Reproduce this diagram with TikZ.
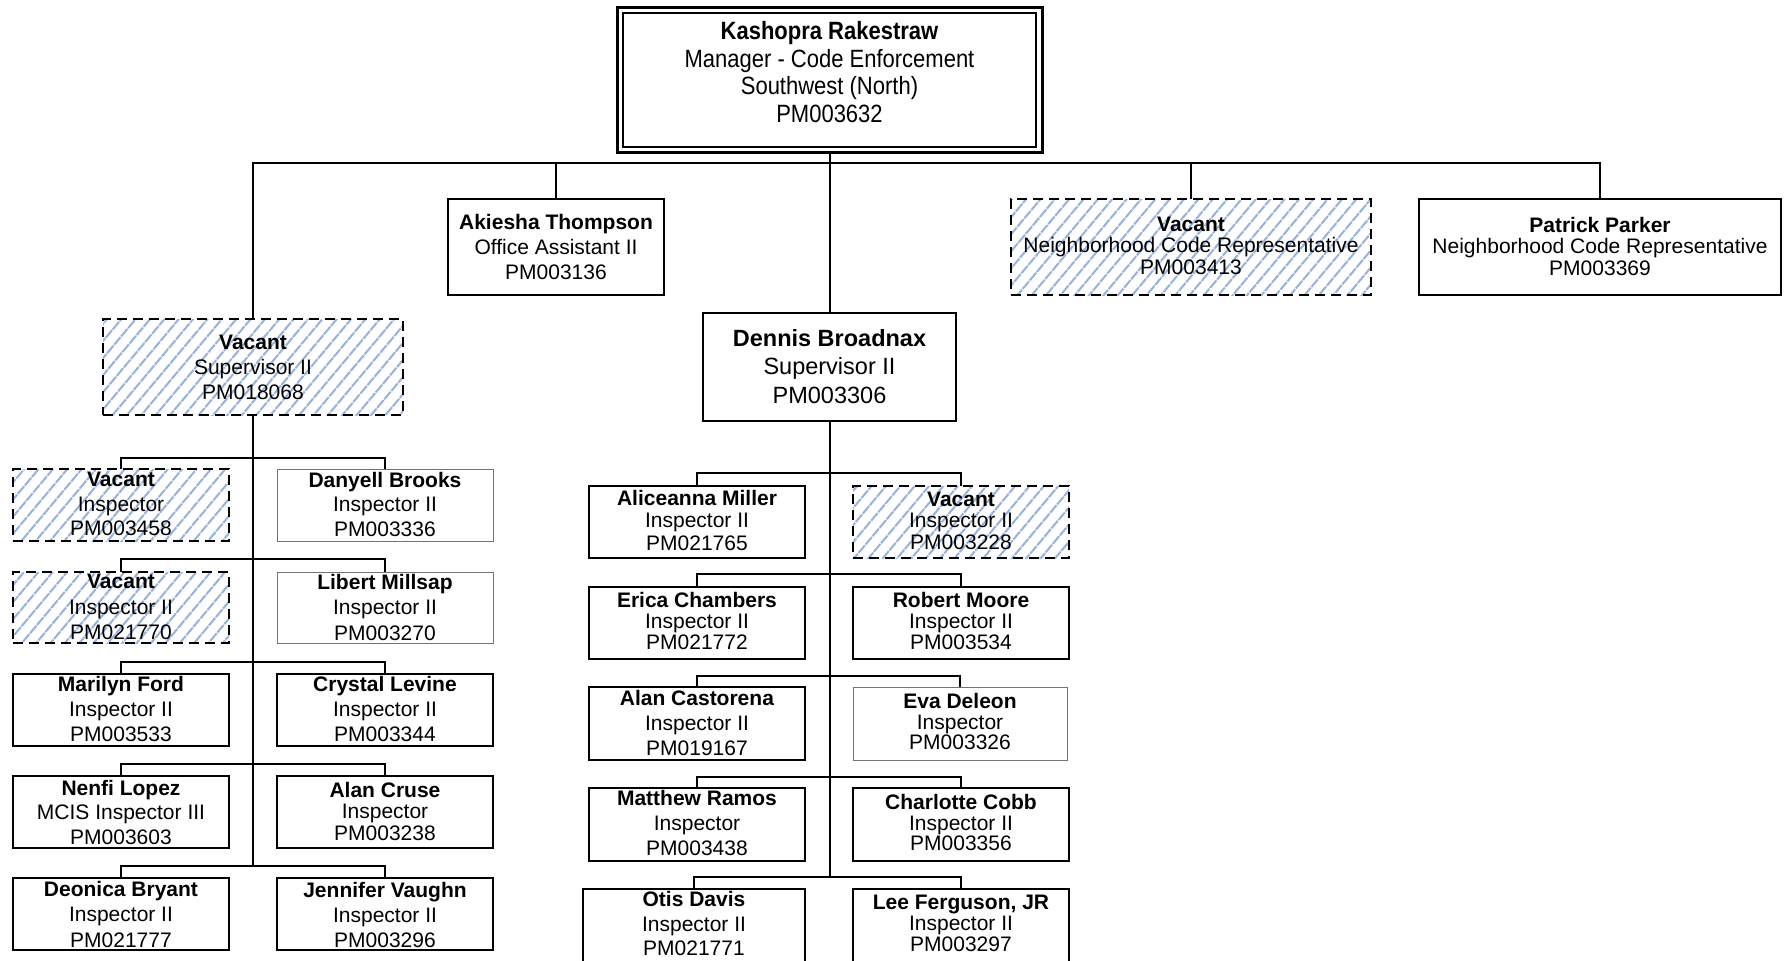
\documentclass[tikz,border=0pt]{standalone}
\usepackage{fontspec}
\setmainfont{Liberation Sans}
\newfontfamily\topfont[FakeStretch=0.88]{Liberation Sans}
\usetikzlibrary{patterns.meta}
\definecolor{hatch}{RGB}{150,178,222}
\tikzset{
  conn/.style={line width=1pt, draw=black},
  pbox/.style={draw=black, line width=1pt, rectangle, inner sep=0pt, outer sep=0pt},
  thinbox/.style={draw=black!55, line width=0.5pt, rectangle, inner sep=0pt, outer sep=0pt},
  vacbox/.style={draw=black, line width=1pt, dash pattern=on 5pt off 3pt, rectangle, inner sep=0pt, outer sep=0pt,
    pattern={Lines[angle=50,distance=5.5pt,line width=1pt]}, pattern color=hatch},
  txt/.style={inner sep=0pt, outer sep=0pt, align=center, text=black},
}
\def\fs{10.5}
% #1 style, #2 name, #3 x, #4 y, #5 w, #6 h, #7 text y, #8 line spacing (pt), #9 text
\newcommand\OB[9]{%
  \node[#1, minimum width=#5*0.5pt, minimum height=#6*0.5pt] (#2) at (#3,#4) {};
  \node[txt, font=\fontsize{\fs}{#8}\selectfont] (#2t) at (#3,#7) {#9};
}
\begin{document}
\begin{tikzpicture}[x=0.5pt,y=-0.5pt]
\fill[white] (0,0) rectangle (1789,960);
\useasboundingbox (0,0) rectangle (1789,960);

% top box
\node[pbox, line width=1.5pt, minimum width=425*0.5pt, minimum height=145*0.5pt] (T) at (829.5,79.5) {};
\draw[line width=1pt] ([shift={(6,5.5)}]T.north west) rectangle ([shift={(-6,-5.5)}]T.south east);
\node[txt, font=\topfont\fontsize{12.5}{13.8}\selectfont] (Tt) at (829.5,72)
  {\textbf{Kashopra Rakestraw}\\Manager - Code Enforcement\\Southwest (North)\\PM003632};

% level 2
\OB{vacbox}{VS}{253}{367}{300}{96}{367}{12.5}{\textbf{Vacant}\\Supervisor II\\PM018068}
\OB{pbox}{AT}{556}{247}{216}{96}{247}{12.5}{\textbf{Akiesha Thompson}\\Office Assistant II\\PM003136}
\def\fs{11.75}
\OB{pbox}{DB}{829.5}{367}{253}{108}{366.5}{14.25}{\textbf{Dennis Broadnax}\\Supervisor II\\PM003306}
\def\fs{10.5}
\OB{vacbox}{VN}{1191}{247}{360}{96}{245.5}{10.75}{\textbf{Vacant}\\Neighborhood Code Representative\\PM003413}
\OB{pbox}{PP}{1600}{247}{362}{96}{246}{10.75}{\textbf{Patrick Parker}\\Neighborhood Code Representative\\PM003369}

% left column
\OB{vacbox}{L1a}{121}{505}{216}{72}{504}{12.25}{\textbf{Vacant}\\Inspector\\PM003458}
\OB{thinbox}{L1b}{385}{505}{216}{72}{504}{12.25}{\textbf{Danyell Brooks}\\Inspector II\\PM003336}
\OB{vacbox}{L2a}{121}{607.5}{216}{71}{607}{12.75}{\textbf{Vacant}\\Inspector II\\PM021770}
\OB{thinbox}{L2b}{385}{607.5}{216}{71}{607}{12.75}{\textbf{Libert Millsap}\\Inspector II\\PM003270}
\OB{pbox}{L3a}{121}{710}{216}{72}{709}{12.5}{\textbf{Marilyn Ford}\\Inspector II\\PM003533}
\OB{pbox}{L3b}{385}{710}{216}{72}{709}{12.5}{\textbf{Crystal Levine}\\Inspector II\\PM003344}
\OB{pbox}{L4a}{121}{812}{216}{72}{812}{12.25}{\textbf{Nenfi Lopez}\\MCIS Inspector III\\PM003603}
\OB{pbox}{L4b}{385}{812}{216}{72}{811}{10.75}{\textbf{Alan Cruse}\\Inspector\\PM003238}
\OB{pbox}{L5a}{121}{914}{216}{72}{914}{12.75}{\textbf{Deonica Bryant}\\Inspector II\\PM021777}
\OB{pbox}{L5b}{385}{914}{216}{72}{914.5}{12.5}{\textbf{Jennifer Vaughn}\\Inspector II\\PM003296}

% middle column
\OB{pbox}{M1a}{697}{522}{216}{72}{520}{11.25}{\textbf{Aliceanna Miller}\\Inspector II\\PM021765}
\OB{vacbox}{M1b}{961}{522}{216}{72}{520.5}{10.75}{\textbf{Vacant}\\Inspector II\\PM003228}
\OB{pbox}{M2a}{697}{623}{216}{72}{621}{10.5}{\textbf{Erica Chambers}\\Inspector II\\PM021772}
\OB{pbox}{M2b}{961}{623}{216}{72}{621}{10.5}{\textbf{Robert Moore}\\Inspector II\\PM003534}
\OB{pbox}{M3a}{697}{723.5}{216}{73}{723}{12.5}{\textbf{Alan Castorena}\\Inspector II\\PM019167}
\OB{thinbox}{M3b}{960}{723.5}{214}{73}{721.5}{10.25}{\textbf{Eva Deleon}\\Inspector\\PM003326}
\OB{pbox}{M4a}{697}{824.5}{216}{73}{823}{12.5}{\textbf{Matthew Ramos}\\Inspector\\PM003438}
\OB{pbox}{M4b}{961}{824.5}{216}{73}{822.5}{10.25}{\textbf{Charlotte Cobb}\\Inspector II\\PM003356}
\OB{pbox}{M5a}{694}{925.5}{222}{73}{923.5}{12.25}{\textbf{Otis Davis}\\Inspector II\\PM021771}
\OB{pbox}{M5b}{961}{925.5}{216}{73}{923}{10.5}{\textbf{Lee Ferguson, JR}\\Inspector II\\PM003297}

% bus coordinates
\coordinate (b0) at (829.5,163);
\coordinate (lb1) at (253,458);
\coordinate (lb2) at (253,559);
\coordinate (lb3) at (253,662);
\coordinate (lb4) at (253,764);
\coordinate (lb5) at (253,866);
\coordinate (mb1) at (829.5,473);
\coordinate (mb2) at (829.5,574);
\coordinate (mb3) at (829.5,676);
\coordinate (mb4) at (829.5,777);
\coordinate (mb5) at (829.5,877);

% connectors level 1
\draw[conn] (T.south) -- (DB.north);
\draw[conn] (VS.north) |- (PP.north |- b0) -- (PP.north);
\draw[conn] (AT.north) -- (AT.north |- b0);
\draw[conn] (VN.north) -- (VN.north |- b0);

% left supervisor
\draw[conn] (VS.south) -- (lb5);
\draw[conn] (L1a.north) |- (lb1) -| (L1b.north);
\draw[conn] (L2a.north) |- (lb2) -| (L2b.north);
\draw[conn] (L3a.north) |- (lb3) -| (L3b.north);
\draw[conn] (L4a.north) |- (lb4) -| (L4b.north);
\draw[conn] (L5a.north) |- (lb5) -| (L5b.north);

% middle supervisor
\draw[conn] (DB.south) -- (mb5);
\draw[conn] (M1a.north) |- (mb1) -| (M1b.north);
\draw[conn] (M2a.north) |- (mb2) -| (M2b.north);
\draw[conn] (M3a.north) |- (mb3) -| (M3b.north);
\draw[conn] (M4a.north) |- (mb4) -| (M4b.north);
\draw[conn] (M5a.north) |- (mb5) -| (M5b.north);
\end{tikzpicture}
\end{document}
